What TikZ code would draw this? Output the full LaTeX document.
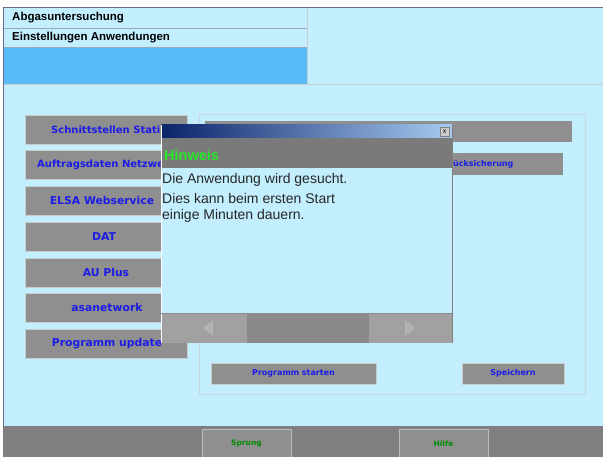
\documentclass[tikz,border=0pt]{standalone}
\usepackage{fontspec}
\setmainfont{Liberation Sans}
\newfontfamily\btnfont{DejaVu Sans}
\usetikzlibrary{calc}

\definecolor{bgblue}{RGB}{194,238,253}
\definecolor{bandblue}{RGB}{88,186,246}
\definecolor{btngray}{RGB}{143,143,143}
\definecolor{bargray}{RGB}{128,128,128}
\definecolor{edgegray}{RGB}{200,205,208}
\definecolor{txtblue}{RGB}{28,28,230}
\definecolor{hintgreen}{RGB}{40,230,40}
\definecolor{sprgreen}{RGB}{0,140,0}
\definecolor{navy}{RGB}{10,36,106}
\definecolor{titlelight}{RGB}{166,202,240}
\definecolor{framegray}{RGB}{100,110,130}
\definecolor{linegray}{RGB}{150,170,185}

\begin{document}
\begin{tikzpicture}[x=1pt,y=-1pt,
  btn/.style={fill=btngray, draw=edgegray, line width=0.8pt},
  lbtext/.style={inner sep=0pt, text=txtblue, font=\btnfont\bfseries\fontsize{10.8}{12}\selectfont},
  cuttext/.style={lbtext, anchor=west, font=\btnfont\bfseries\fontsize{10}{12}\selectfont},
  smtext/.style={inner sep=0pt, text=txtblue, font=\btnfont\bfseries\fontsize{8}{10}\selectfont},
  msgtext/.style={inner sep=0pt, anchor=west, text=black!85, font=\fontsize{14}{16}\selectfont},
  navtext/.style={inner sep=0pt, text=sprgreen, font=\btnfont\bfseries\fontsize{7.5}{9}\selectfont}]
  \useasboundingbox (0,0) rectangle (603,457);
  \fill[white] (0,0) rectangle (603,457);
  % Screen
  \fill[bgblue] (3,8) rectangle (603,426);
  \fill[bandblue] (3,47) rectangle (307,85);
  \draw[linegray] (3,28) -- (307,28);
  \draw[linegray] (3,47) -- (307,47);
  \draw[edgegray] (307,8) -- (307,85);
  \draw[edgegray, line width=1pt] (3,85) -- (603,85);
  \draw[framegray, line width=1pt] (3,457) -- (3,8) -- (603,8);
  \node[inner sep=0pt, anchor=west, font=\bfseries\fontsize{11.5}{13}\selectfont] (title) at (12,18) {Abgasuntersuchung};
  \node[inner sep=0pt, anchor=west, font=\bfseries\fontsize{11.5}{13}\selectfont] (menu) at (12,37.5) {Einstellungen Anwendungen};
  % Left buttons
  \foreach \y in {115,150,186,222,258,293,329}
    \draw[btn] (25,\y) rectangle (187,\y+29);
  \node[cuttext] (schnitt) at (51,129.5) {Schnittstellen Stati};
  \node[cuttext] (auftrag) at (37,164.5) {Auftragsdaten Netzwe};
  \node[lbtext] (elsa) at (102,200.5) {ELSA Webservice};
  \node[lbtext] (dat) at (104,236.5) {DAT};
  \node[lbtext] (auplus) at (106,272.5) {AU Plus};
  \node[lbtext] (asa) at (107,307.5) {asanetwork};
  \node[lbtext] (update) at (107,343.5) {Programm update};
  % Right group
  \draw[edgegray!70!bgblue, line width=0.8pt] (199,114) rectangle (585,394);
  \fill[btngray] (205,121) rectangle (572,142);
  \fill[btngray] (205,153) rectangle (563,175);
  \node[smtext, anchor=west] (rueck) at (453,164) {ücksicherung};
  \draw[btn] (211,363) rectangle (376,384);
  \node[smtext] (start) at (293.5,373.5) {Programm starten};
  \draw[btn] (462,363) rectangle (564,384);
  \node[smtext] (save) at (513,373.5) {Speichern};
  % Bottom bar
  \fill[bargray] (3,426) rectangle (603,457);
  \draw[fill=btngray, draw=edgegray!80!bargray] (202,457) -- (202,429) -- (291,429) -- (291,457);
  \draw[fill=btngray, draw=edgegray!80!bargray] (399,457) -- (399,429) -- (488,429) -- (488,457);
  \node[navtext] (sprung) at (246.5,444) {Sprung};
  \node[navtext] (hilfe) at (443.5,444) {Hilfe};
  % Dialog
  \fill[bgblue] (161,125) rectangle (452,343);
  \shade[left color=navy, right color=titlelight] (161,125) rectangle (452,138);
  \draw[fill=black!20, draw=black!50, line width=0.4pt] (440,127.5) rectangle (449,136);
  \node[inner sep=0pt, font=\fontsize{7}{7}\selectfont] (close) at (444.5,131.5) {x};
  \fill[bargray!105] (161,138) rectangle (452,168);
  \node[inner sep=0pt, anchor=west, text=hintgreen, font=\bfseries\fontsize{14.5}{16}\selectfont] (hinweis) at (164,155) {Hinweis};
  \node[msgtext] (line1) at (162,180) {Die Anwendung wird gesucht.};
  \node[msgtext] (line2) at (162,198) {Dies kann beim ersten Start};
  \node[msgtext] (line3) at (162,216) {einige Minuten dauern.};
  \fill[black!37] (161,313) rectangle (452,343);
  \fill[black!46] (247,313) rectangle (369,343);
  \fill[black!30] (213,320) -- (213,336) -- (203,328) -- cycle;
  \fill[black!30] (405,320) -- (405,336) -- (415,328) -- cycle;
  \draw[white, line width=1pt] (161,125) -- (161,343);
  \draw[black!50, line width=1pt] (452,125) -- (452,343);
  \draw[black!45, line width=0.6pt] (161,313) -- (452,313);
\end{tikzpicture}
\end{document}
